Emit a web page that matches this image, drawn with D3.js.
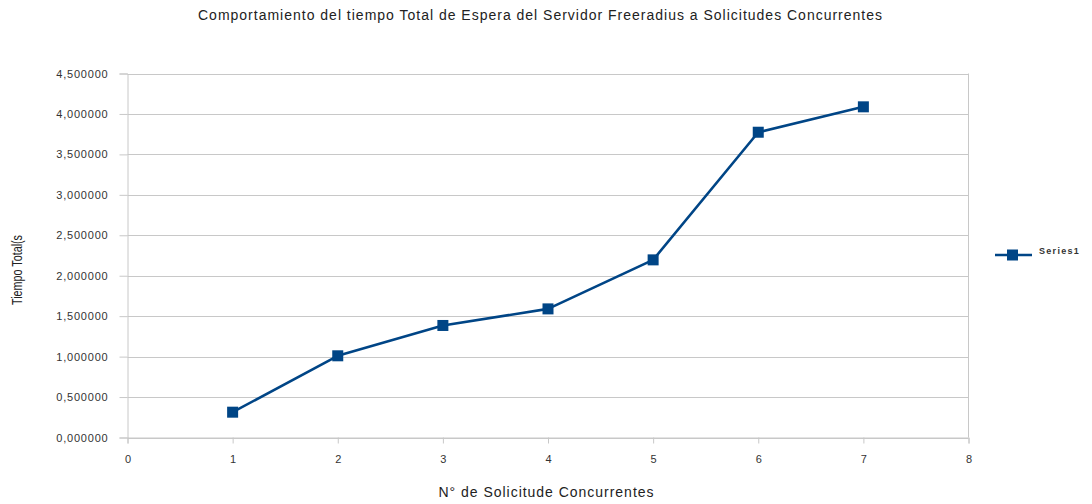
<!DOCTYPE html>
<html>
<head>
<meta charset="utf-8">
<script src="https://cdn.jsdelivr.net/npm/d3@7"></script>
<style>
  body { margin: 0; background: #fff; }
  svg { display: block; font-family: "Liberation Sans", Arial, sans-serif; }
</style>
</head>
<body>
<svg id="chart" width="1092" height="504"></svg>
<script>
// Concurrent requests and total wait time (s)
const requests = [1, 2, 3, 4, 5, 6, 7];
const totalTime = [0.313, 1.010, 1.385, 1.590, 2.196, 3.774, 4.088];
const xTicks = [0, 1, 2, 3, 4, 5, 6, 7, 8];
const yTicks = [0, 0.5, 1, 1.5, 2, 2.5, 3, 3.5, 4, 4.5];
const seriesName = "Series1";

const blue = "#004586";
const grid = "#c8c8c8";
const svg = d3.select("#chart");

const x = d3.scaleLinear().domain([0, 8]).range([127.5, 968.5]);
const y = d3.scaleLinear().domain([0, 4.5]).range([437.5, 73.5]);

const fmt = v => d3.format(".6f")(v).replace(".", ",");

// horizontal gridlines
svg.append("g").selectAll("line").data(yTicks).join("line")
  .attr("x1", x(0)).attr("x2", x(8))
  .attr("y1", d => Math.round(y(d)) + 0.5).attr("y2", d => Math.round(y(d)) + 0.5)
  .attr("stroke", grid).attr("stroke-width", 1);

// right border
svg.append("line")
  .attr("x1", x(8)).attr("x2", x(8)).attr("y1", y(4.5)).attr("y2", y(0))
  .attr("stroke", grid);

// y axis
const yAxis = svg.append("g").attr("transform", `translate(${x(0)},0)`)
  .call(d3.axisLeft(y).tickValues(yTicks).tickFormat(fmt).tickSize(8).tickPadding(11));
yAxis.select(".domain").attr("stroke", grid);
yAxis.selectAll(".tick line").attr("stroke", grid);
yAxis.selectAll(".tick text").attr("fill", "#333").style("font-size", "11px")
  .style("letter-spacing", "0.8px");

// x axis
const xAxis = svg.append("g").attr("transform", `translate(0,${y(0)})`)
  .call(d3.axisBottom(x).tickValues(xTicks).tickFormat(d3.format("d")).tickSize(6).tickPadding(12));
xAxis.select(".domain").attr("stroke", grid);
xAxis.selectAll(".tick line").attr("stroke", grid);
xAxis.selectAll(".tick text").attr("fill", "#333").style("font-size", "11px");

// series line
const pts = requests.map((r, i) => [r, totalTime[i]]);
svg.append("path").datum(pts)
  .attr("fill", "none").attr("stroke", blue).attr("stroke-width", 2.6)
  .attr("stroke-linejoin", "round")
  .attr("d", d3.line().x(d => x(d[0])).y(d => y(d[1])));

// square markers
const ms = 11;
svg.append("g").selectAll("rect").data(pts).join("rect")
  .attr("x", d => x(d[0]) - ms / 2).attr("y", d => y(d[1]) - ms / 2)
  .attr("width", ms).attr("height", ms).attr("fill", blue);

// title
svg.append("text")
  .attr("x", 540).attr("y", 20).attr("text-anchor", "middle")
  .style("font-size", "14px").attr("fill", "#222")
  .attr("textLength", 684).attr("lengthAdjust", "spacing")
  .text("Comportamiento del tiempo Total de Espera del Servidor Freeradius a Solicitudes Concurrentes");

// axis titles
svg.append("text")
  .attr("transform", "translate(22,270) rotate(-90)").attr("text-anchor", "middle")
  .style("font-size", "14px").attr("fill", "#222")
  .attr("textLength", 70).attr("lengthAdjust", "spacingAndGlyphs")
  .text("Tiempo Total(s");

svg.append("text")
  .attr("x", 546).attr("y", 497).attr("text-anchor", "middle")
  .style("font-size", "14px").attr("fill", "#222")
  .attr("textLength", 215).attr("lengthAdjust", "spacing")
  .text("N° de Solicitude Concurrentes");

// legend
const lg = svg.append("g").attr("transform", "translate(995,255)");
lg.append("line").attr("x1", 0).attr("x2", 37).attr("y1", 0).attr("y2", 0)
  .attr("stroke", blue).attr("stroke-width", 2.6);
lg.append("rect").attr("x", 12).attr("y", -5.5).attr("width", 11).attr("height", 11).attr("fill", blue);
lg.append("text").attr("x", 44).attr("y", -1)
  .style("font-size", "9px").style("font-weight", "bold").style("letter-spacing", "1.3px")
  .attr("fill", "#333").text(seriesName);
</script>
</body>
</html>
